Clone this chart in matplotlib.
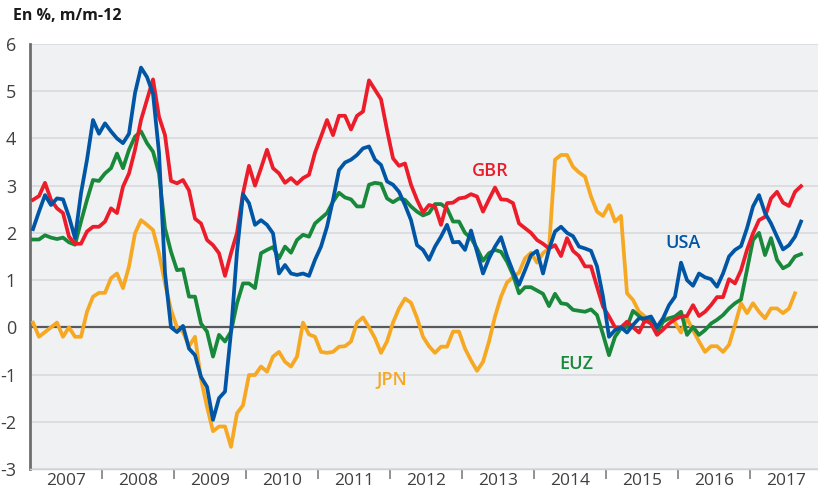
import matplotlib
matplotlib.use("Agg")
import matplotlib.pyplot as plt
import numpy as np

# inflation, % y/y, monthly from Jan 2007
usa = [2.08, 2.45, 2.8, 2.59, 2.73, 2.71, 2.34, 1.89, 2.84, 3.55, 4.39, 4.1,
       4.32, 4.15, 4.0, 3.9, 4.1, 4.96, 5.5, 5.3, 4.95, 3.7, 1.15, 0.0,
       -0.1, 0.03, -0.45, -0.59, -1.05, -1.26, -1.96, -1.5, -1.36, -0.1, 1.6, 2.82,
       2.63, 2.17, 2.27, 2.17, 1.99, 1.14, 1.32, 1.14, 1.11, 1.14, 1.09, 1.43,
       1.71, 2.13, 2.7, 3.33, 3.49, 3.55, 3.65, 3.79, 3.83, 3.55, 3.44, 3.09,
       3.02, 2.87, 2.59, 2.27, 1.74, 1.64, 1.43, 1.71, 1.92, 2.17, 1.8, 1.81,
       1.64, 2.05, 1.6, 1.14, 1.46, 1.71, 1.91, 1.51, 1.18, 0.9, 1.21, 1.53,
       1.62, 1.14, 1.65, 2.03, 2.13, 2.0, 1.93, 1.71, 1.67, 1.62, 1.29, 0.65,
       -0.2, -0.06, 0.0, -0.11, 0.05, 0.19, 0.19, 0.23, 0.0, 0.19, 0.47, 0.65,
       1.37, 1.0, 0.88, 1.14, 1.06, 1.02, 0.86, 1.14, 1.5, 1.64, 1.72, 2.1,
       2.56, 2.8, 2.42, 2.2, 1.92, 1.65, 1.74, 1.92, 2.24]

gbr = [2.7, 2.78, 3.06, 2.7, 2.52, 2.42, 1.92, 1.77, 1.77, 2.03, 2.13, 2.13,
       2.24, 2.52, 2.42, 2.98, 3.26, 3.76, 4.39, 4.82, 5.25, 4.46, 4.07, 3.1,
       3.05, 3.12, 2.9, 2.3, 2.2, 1.85, 1.74, 1.57, 1.09, 1.57, 2.0, 2.84,
       3.42, 3.0, 3.37, 3.76, 3.37, 3.26, 3.06, 3.16, 3.04, 3.16, 3.23, 3.7,
       4.04, 4.39, 4.07, 4.48, 4.48, 4.19, 4.48, 4.57, 5.23, 5.03, 4.83, 4.18,
       3.58, 3.42, 3.47, 3.02, 2.7, 2.43, 2.59, 2.56, 2.17, 2.63, 2.64, 2.73,
       2.75, 2.82, 2.77, 2.45, 2.71, 2.96, 2.71, 2.7, 2.63, 2.2, 2.1, 2.0,
       1.85, 1.77, 1.67, 1.74, 1.51, 1.89, 1.62, 1.51, 1.29, 1.29, 0.86, 0.44,
       0.23, 0.0, 0.0, 0.12, 0.0, -0.11, 0.15, 0.08, -0.16, -0.05, 0.08, 0.17,
       0.23, 0.24, 0.47, 0.24, 0.33, 0.47, 0.64, 0.64, 1.02, 0.93, 1.21, 1.64,
       1.99, 2.27, 2.34, 2.73, 2.87, 2.64, 2.57, 2.87, 2.99]

euz = [1.86, 1.86, 1.95, 1.9, 1.87, 1.9, 1.8, 1.75, 2.24, 2.7, 3.12, 3.1,
       3.26, 3.37, 3.68, 3.37, 3.76, 4.04, 4.15, 3.9, 3.72, 3.26, 2.1, 1.6,
       1.21, 1.23, 0.65, 0.65, 0.08, -0.09, -0.62, -0.16, -0.3, -0.09, 0.51, 0.93,
       0.93, 0.83, 1.57, 1.64, 1.7, 1.46, 1.71, 1.58, 1.85, 1.96, 1.92, 2.2,
       2.31, 2.42, 2.66, 2.85, 2.75, 2.71, 2.56, 2.56, 3.02, 3.06, 3.04, 2.73,
       2.65, 2.73, 2.7, 2.56, 2.45, 2.37, 2.42, 2.61, 2.61, 2.52, 2.24, 2.24,
       2.0, 1.89, 1.67, 1.41, 1.57, 1.64, 1.6, 1.39, 1.11, 0.72, 0.85, 0.85,
       0.78, 0.71, 0.45, 0.71, 0.51, 0.49, 0.37, 0.35, 0.33, 0.38, 0.26, -0.15,
       -0.59, -0.2, -0.02, 0.01, 0.35, 0.24, 0.12, 0.16, -0.11, 0.12, 0.19, 0.23,
       0.33, -0.16, 0.01, -0.16, -0.06, 0.08, 0.16, 0.26, 0.4, 0.51, 0.59, 1.22,
       1.85, 2.0, 1.53, 1.89, 1.43, 1.25, 1.32, 1.5, 1.55]

jpn = [0.1, -0.2, -0.1, 0.0, 0.1, -0.2, 0.0, -0.2, -0.2, 0.33, 0.65, 0.73,
       0.73, 1.04, 1.14, 0.83, 1.29, 1.99, 2.27, 2.17, 2.06, 1.57, 0.93, 0.37,
       0.0, -0.1, -0.4, -0.2, -1.1, -1.68, -2.2, -2.1, -2.1, -2.53, -1.82, -1.65,
       -1.01, -1.01, -0.83, -0.94, -0.62, -0.52, -0.73, -0.83, -0.62, 0.1, -0.15, -0.2,
       -0.52, -0.54, -0.52, -0.41, -0.4, -0.3, 0.1, 0.21, 0.0, -0.23, -0.54, -0.3,
       0.1, 0.4, 0.61, 0.52, 0.2, -0.2, -0.4, -0.54, -0.41, -0.41, -0.09, -0.09,
       -0.45, -0.7, -0.92, -0.73, -0.3, 0.23, 0.65, 0.95, 1.06, 1.16, 1.46, 1.58,
       1.37, 1.57, 1.67, 3.55, 3.65, 3.65, 3.4, 3.28, 3.19, 2.77, 2.45, 2.36,
       2.59, 2.24, 2.36, 0.72, 0.58, 0.33, 0.23, 0.12, 0.0, 0.19, 0.19, 0.1,
       -0.11, 0.19, -0.06, -0.3, -0.52, -0.4, -0.4, -0.52, -0.37, 0.05, 0.51, 0.3,
       0.51, 0.33, 0.19, 0.4, 0.4, 0.3, 0.4, 0.72]

years = [str(y) for y in range(2007, 2018)]
yticks = [-3, -2, -1, 0, 1, 2, 3, 4, 5, 6]

c_usa = "#0055a5"
c_gbr = "#ec1c2a"
c_euz = "#18883a"
c_jpn = "#f7a823"

plt.rcParams['font.family'] = ['Open Sans', 'DejaVu Sans']

fig = plt.figure(figsize=(8.18, 4.92), dpi=100)
ax = fig.add_axes([30 / 818, 23 / 492, 788 / 818, 425 / 492])
ax.set_facecolor("#f0f1f3")

for v in yticks:
    if v != 0:
        ax.axhline(v, color="#dcdde0", lw=1.4, zorder=1)
ax.axhline(0, color="#58595b", lw=1.6, zorder=2)

lw = 2.7
ax.plot(np.arange(len(jpn)), jpn, color=c_jpn, lw=lw, zorder=3, solid_joinstyle="round")
ax.plot(np.arange(len(euz)), euz, color=c_euz, lw=lw, zorder=4, solid_joinstyle="round")
ax.plot(np.arange(len(gbr)), gbr, color=c_gbr, lw=lw, zorder=5, solid_joinstyle="round")
ax.plot(np.arange(len(usa)), usa, color=c_usa, lw=lw, zorder=6, solid_joinstyle="round")

lab = dict(fontsize=13, fontweight="semibold", ha="center", va="center")
ax.text(76.2, 3.32, "GBR", color=c_gbr, **lab)
ax.text(108.3, 1.78, "USA", color=c_usa, **lab)
ax.text(90.5, -0.78, "EUZ", color=c_euz, **lab)
ax.text(59.8, -1.1, "JPN", color=c_jpn, **lab)

ax.set_xlim(-0.5, 130.83)
ax.set_ylim(-3, 6)
ax.set_yticks(yticks)
ax.set_yticklabels([str(v) for v in yticks], fontsize=13, color="#404041")
ax.tick_params(axis="y", length=0, pad=10)

ax.set_xticks([5.5 + 12 * i for i in range(len(years))])
ax.set_xticklabels(years, fontsize=12.5, color="#404041")
ax.set_xticks([-0.5 + 12 * i for i in range(1, 11)], minor=True)
ax.tick_params(axis="x", which="major", length=0, pad=3)
ax.tick_params(axis="x", which="minor", length=7, width=1.2, color="#808080", direction="out")

for s in ["top", "right"]:
    ax.spines[s].set_visible(False)
ax.spines["left"].set_color("#6d6e70")
ax.spines["left"].set_linewidth(2)
ax.spines["bottom"].set_color("#d0d1d3")
ax.spines["bottom"].set_linewidth(1)

fig.text(13 / 818, 1 - 16 / 492, "En %, m/m-12", fontsize=11.5, fontweight="bold",
         ha="left", va="center", color="#1a1a1a")

fig.savefig("out.png", dpi=100)
